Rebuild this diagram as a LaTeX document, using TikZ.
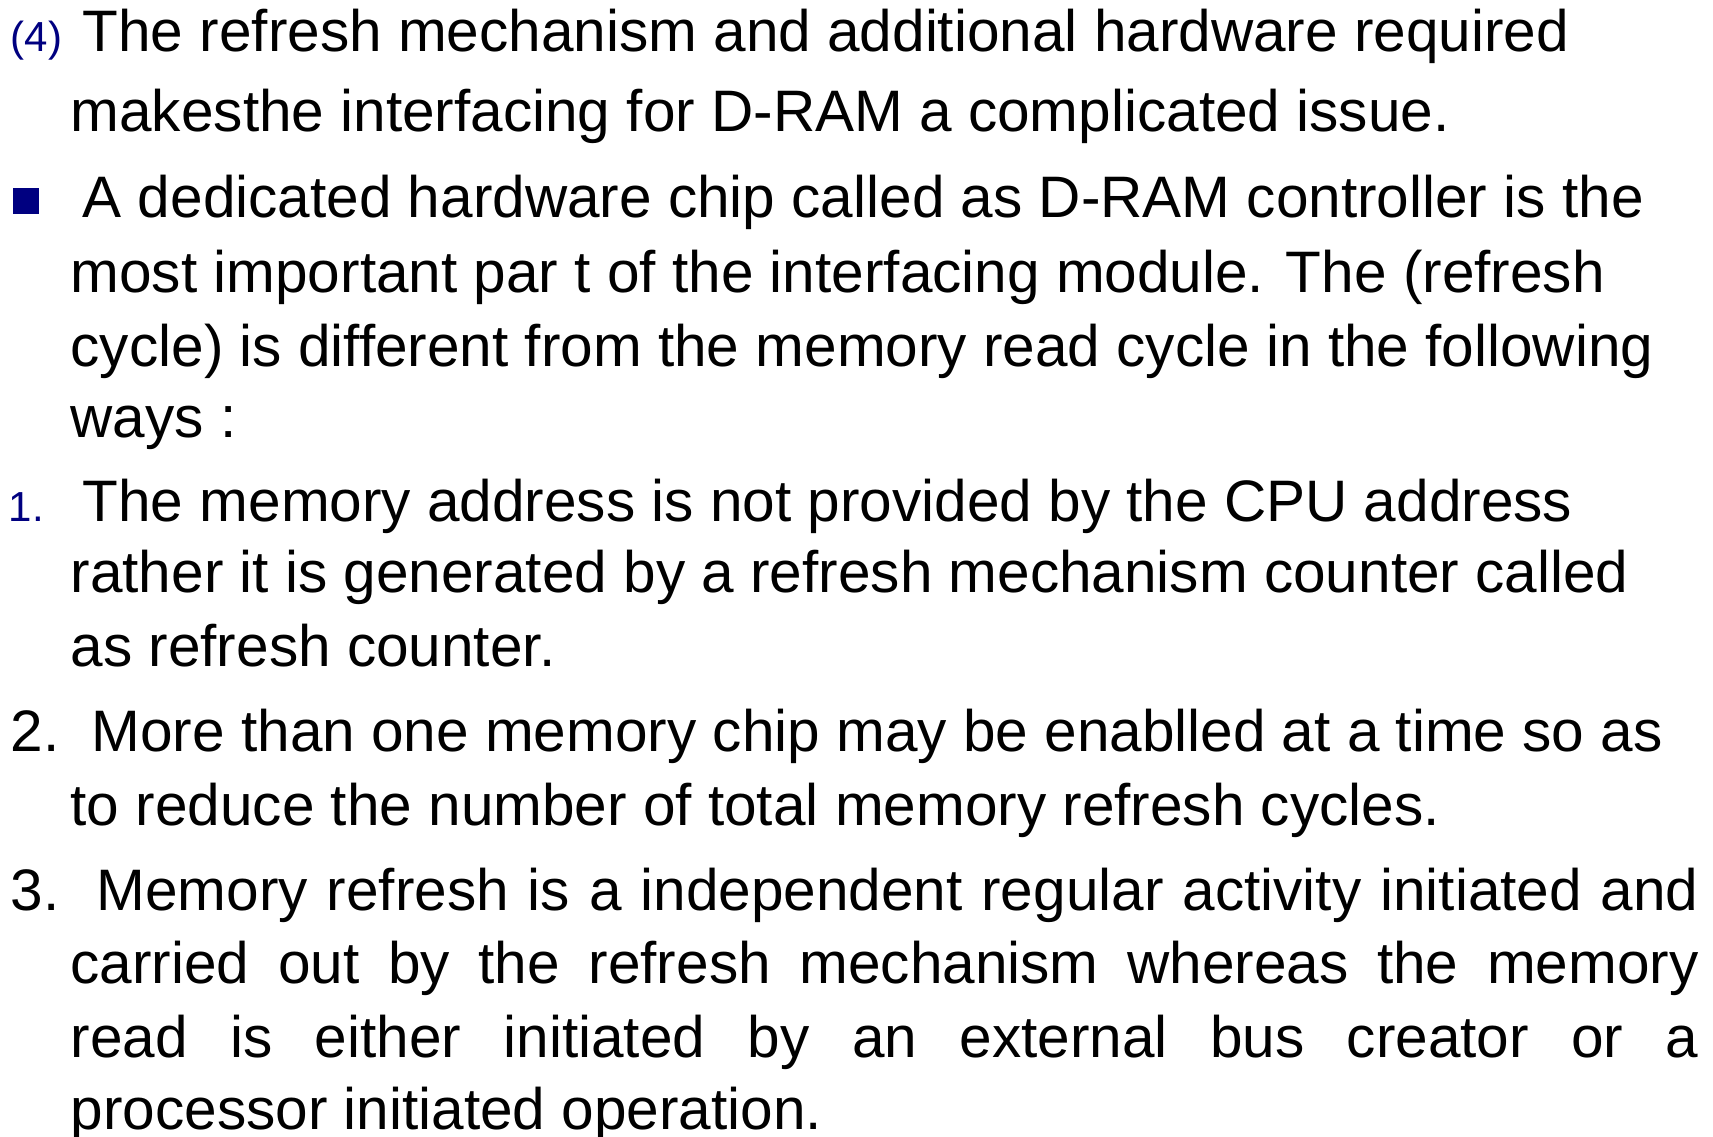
\documentclass[tikz,border=0pt]{standalone}
\usepackage{fontspec}
\setmainfont{Liberation Sans}
\definecolor{slidenavy}{RGB}{0,0,128}
\tikzset{
  txt/.style={anchor=base west, inner sep=0pt, font=\fontsize{16.65}{20}\selectfont},
  txtsmall/.style={anchor=base west, inner sep=0pt, text=slidenavy, font=\fontsize{11.95}{14}\selectfont},
  bulletbox/.style={fill=slidenavy, inner sep=0pt, minimum size=2.6mm}
}
\newcommand{\justline}[2]{\makebox[#1][s]{#2}}

\begin{document}
\begin{tikzpicture}[x=0.1mm,y=-0.1mm]
\useasboundingbox (0,0) rectangle (1713,1137);
% point (4)
\node[txtsmall] (n4) at (10,52) {(4)};
\node[txt] (l1) at (82,52) {The refresh mechanism and additional hardware required};
\node[txt] (l2) at (70,132) {makesthe interfacing for D-RAM a complicated issue.};
% bullet
\node[bulletbox] (bul) at (26,201) {};
\node[txt] (l3) at (82,218) {A dedicated hardware chip called as D-RAM controller is the};
\node[txt] (l4) at (70,293) {most important par t of the interfacing module. The (refresh};
\node[txt] (l5) at (70,367) {cycle) is different from the memory read cycle in the following};
\node[txt] (l6) at (70,438) {ways :};
% list
\node[txtsmall] (n1) at (8,522) {1.};
\node[txt] (l7) at (82,522) {The memory address is not provided by the CPU address};
\node[txt] (l8) at (70,593) {rather it is generated by a refresh mechanism counter called};
\node[txt] (l9) at (70,667) {as refresh counter.};
\node[txt] (n2) at (10,752) {2.};
\node[txt] (l10) at (91,752) {More than one memory chip may be enablled at a time so as};
\node[txt] (l11) at (70,826) {to reduce the number of total memory refresh cycles.};
\node[txt] (n3) at (10,910) {3.};
\node[txt] (l12) at (96,910) {\justline{160.2mm}{Memory refresh is a independent regular activity initiated and}};
\node[txt] (l13) at (70,983) {\justline{162.8mm}{carried out by the refresh mechanism whereas the memory}};
\node[txt] (l14) at (70,1057) {\justline{162.8mm}{read is either initiated by an external bus creator or a}};
\node[txt] (l15) at (70,1129) {processor initiated operation.};
\end{tikzpicture}
\end{document}
